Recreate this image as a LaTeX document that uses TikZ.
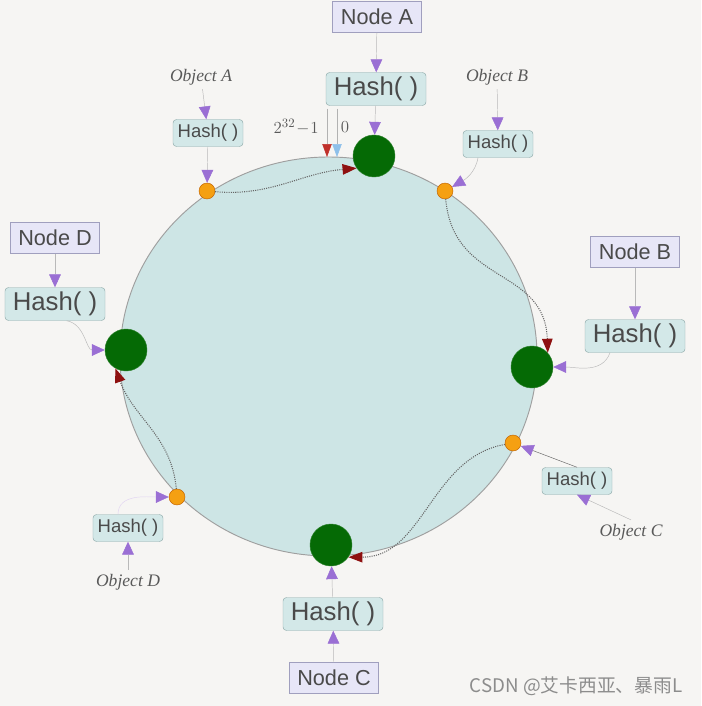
\documentclass[tikz,border=0pt]{standalone}
\usepackage{fontspec}
\setmainfont{Liberation Serif}
\setsansfont{Liberation Sans}
\newfontfamily\cjkfont{Noto Sans CJK SC}
\usepackage{tikz}
\usetikzlibrary{shapes.geometric, arrows.meta, positioning}
\definecolor{paper}{HTML}{F6F5F3}
\definecolor{ringfill}{HTML}{CDE5E5}
\definecolor{boxlav}{HTML}{E7E6F7}
\definecolor{boxlavedge}{HTML}{A09FBE}
\definecolor{boxcyan}{HTML}{D3E8E8}
\definecolor{boxcyanedge}{HTML}{8FAAAA}
\definecolor{arrowpurple}{HTML}{9A6FD4}
\definecolor{flowred}{HTML}{8E1010}
\definecolor{nodegreen}{HTML}{056A05}
\definecolor{dotorange}{HTML}{F5A012}
\definecolor{textgray}{HTML}{4A4A4A}
\definecolor{markred}{HTML}{C0302A}
\definecolor{markblue}{HTML}{8EC0EA}
\tikzstyle{hasharrow} = [draw=gray!55, thin, -{Triangle[length=11pt,width=10pt,color=arrowpurple]}]
\tikzstyle{flowarrow} = [draw=black!60, densely dotted, line width=0.9pt, -{Triangle[length=12pt,width=9pt,color=flowred]}]
\tikzstyle{nodebox} = [rectangle, draw=boxlavedge, fill=boxlav, minimum width=2.67cm, minimum height=0.93cm, inner sep=1pt, text=textgray, font=\sffamily\fontsize{18.5}{20}\selectfont]
\tikzstyle{bighash} = [rectangle, rounded corners=3pt, draw=boxcyanedge, fill=boxcyan, minimum width=3cm, minimum height=0.99cm, inner sep=1pt, text=textgray, font=\sffamily\fontsize{22}{24}\selectfont]
\tikzstyle{smallhash} = [rectangle, rounded corners=3pt, draw=boxcyanedge, fill=boxcyan, minimum width=2.1cm, minimum height=0.81cm, inner sep=1pt, text=textgray, font=\sffamily\fontsize{15.8}{17}\selectfont]
\tikzstyle{objlabel} = [text=black!65, font=\itshape\fontsize{15}{16}\selectfont]
\tikzset{
	hashring/.style = {ellipse, draw=gray!75, fill=ringfill, line width=0.8pt,
		minimum width=12.51cm, minimum height=11.97cm, inner sep=0pt},
	server/.style = {circle, fill=nodegreen, draw=nodegreen!85!white,
		minimum size=1.26cm, inner sep=0pt},
	keydot/.style = {circle, fill=dotorange, draw=orange!75!black, thin,
		minimum size=0.48cm, inner sep=0pt}
}
\tikzset{
marklabel/.style={text=black!65, font=\fontsize{15}{16}\selectfont, inner sep=1pt}
}

\begin{document}
\begin{tikzpicture}[x=0.03cm, y=0.03cm]
%----------------------------------------------------------------------------
% Background and the hash ring
\fill [paper] (0,0) rectangle (701,-706);
\node (ring) [hashring] at (328.5,-356.5) {};

%----------------------------------------------------------------------------
% Placement of positions on the ring
\node (ringA) [server] at (374,-156) {};
\node (ringB) [server] at (532,-367) {};
\node (ringC) [server] at (331,-545) {};
\node (ringD) [server] at (126,-350) {};

\node (dotA) [keydot] at (207,-191) {};
\node (dotB) [keydot] at (445,-191) {};
\node (dotC) [keydot] at (513,-443) {};
\node (dotD) [keydot] at (177,-497) {};

%----------------------------------------------------------------------------
% Server nodes with their hash boxes
\node (nodeA) [nodebox] at (377,-17) {Node A};
\node (hashA) [bighash] at (376,-89) {Hash( )};

\node (nodeB) [nodebox] at (635,-252) {Node B};
\node (hashB) [bighash] at (635,-336) {Hash( )};

\node (nodeC) [nodebox] at (334,-678) {Node C};
\node (hashC) [bighash] at (333,-614) {Hash( )};

\node (nodeD) [nodebox] at (55,-238) {Node D};
\node (hashD) [bighash] at (55,-304) {Hash( )};

%----------------------------------------------------------------------------
% Objects with their hash boxes
\node (objA) [objlabel] at (201,-77) {Object A};
\node (hashObjA) [smallhash] at (208,-133) {Hash( )};

\node (objB) [objlabel] at (497,-77) {Object B};
\node (hashObjB) [smallhash] at (498,-144) {Hash( )};

\node (objC) [objlabel] at (631,-532) {Object C};
\node (hashObjC) [smallhash] at (577,-481) {Hash( )};

\node (objD) [objlabel] at (128,-582) {Object D};
\node (hashObjD) [smallhash] at (128,-528) {Hash( )};

%----------------------------------------------------------------------------
% Start and end of the key space
\node (maxLabel) [marklabel, anchor=east] at (320,-127) {$2^{32}\!-\!1$};
\node (zeroLabel) [marklabel] at (345,-127) {$0$};
\coordinate (maxTop) at (327,-109);
\coordinate (maxEnd) at (327,-157);
\coordinate (zeroTop) at (337,-109);
\coordinate (zeroEnd) at (337,-157);

\draw [draw=gray!60, -{Triangle[length=11pt,width=8pt,color=markred]}] (maxTop) -- (maxEnd);
\draw [draw=gray!60, -{Triangle[length=11pt,width=8pt,color=markblue]}] (zeroTop) -- (zeroEnd);

%----------------------------------------------------------------------------
% Hash lines of the servers
\draw [hasharrow] (nodeA) -- (hashA);
\draw [hasharrow] (hashA) -- (ringA);

\draw [hasharrow] (nodeB) -- (hashB);
\draw [hasharrow] ([xshift=-0.75cm]hashB.south) to[out=-110, in=0] (ringB);

\draw [hasharrow] (nodeC) -- (hashC);
\draw [hasharrow] (hashC) -- (ringC);

\draw [hasharrow] (nodeD) -- (hashD);
\draw [hasharrow] ([xshift=0.35cm]hashD.south) to[out=-10, in=180] (ringD);

%----------------------------------------------------------------------------
% Hash lines of the objects
\draw [hasharrow] (objA) -- (hashObjA);
\draw [hasharrow] (hashObjA) -- (dotA);

\draw [hasharrow] (objB) -- (hashObjB);
\draw [hasharrow] ([xshift=-0.6cm]hashObjB.south) to[out=-100, in=30] (dotB);

\draw [hasharrow] (objC.north) -- (hashObjC.south);
\draw [hasharrow, draw=black!60] (hashObjC.north) -- (dotC);

\draw [hasharrow] (objD) -- (hashObjD);
\draw [hasharrow, draw=arrowpurple!30] ([xshift=-0.3cm]hashObjD.north) to[out=90, in=180] (dotD);

%----------------------------------------------------------------------------
% Each object goes clockwise to the next server
\draw [flowarrow] (dotA) to[out=-5, in=185] (ringA.215);
\draw [flowarrow] (dotB) to[out=-85, in=92, looseness=1.2] (ringB.42);
\draw [flowarrow] (dotC) to[out=190, in=0] (ringC.-35);
\draw [flowarrow] (dotD) to[out=95, in=-70] (ringD.240);

%----------------------------------------------------------------------------
\node (credit) [text=black!45, font=\cjkfont\fontsize{16}{18}\selectfont] at (576,-686) {CSDN @艾卡西亚、暴雨L};

\end{tikzpicture}
\end{document}
